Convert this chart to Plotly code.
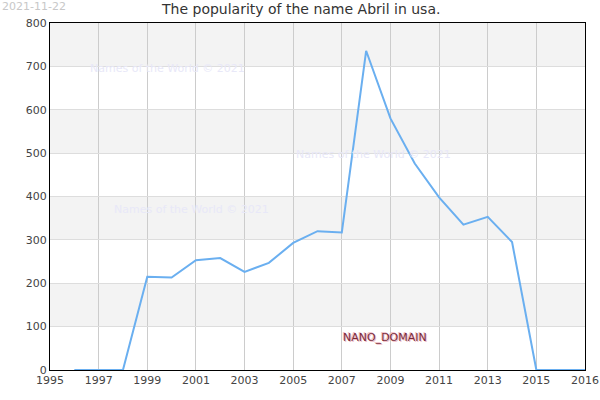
import plotly.graph_objects as go

years = list(range(1996, 2018))
values = [0, 0, 0, 215, 213, 253, 258, 226, 247, 293, 320, 317, 736, 580, 476, 398, 335, 353, 295, 0, 0, 0]

tick_vals = [1995, 1997, 1999, 2001, 2003, 2005, 2007, 2009, 2011, 2013, 2015, 2017]
tick_text = ["1995", "1997", "1999", "2001", "2003", "2005", "2007", "2009", "2011", "2013", "2015", "2016"]

title_text = "The popularity of the name Abril in usa."
date_text = "2021-11-22"
watermark = "Names of the World © 2021"
domain_label = "NANO_DOMAIN"

fig = go.Figure()
fig.add_trace(go.Scatter(x=years, y=values, mode="lines",
                         line=dict(color="#6aaff0", width=2), hoverinfo="skip"))

shapes = []
for lo in [100, 300, 500, 700]:
    shapes.append(dict(type="rect", xref="paper", yref="y", x0=0, x1=1, y0=lo, y1=lo + 100,
                       fillcolor="#f3f3f3", line=dict(width=0), layer="below"))

font = "DejaVu Sans, sans-serif"
annotations = [
    dict(text=title_text, x=(300 - 50) / 535, xref="paper", y=1, yref="paper", yanchor="bottom",
         yshift=4, showarrow=False, font=dict(size=14, color="#333", family=font)),
    dict(text=date_text, x=0, y=1, xref="paper", yref="paper", xanchor="left", yanchor="bottom",
         xshift=-50, yshift=8, showarrow=False, font=dict(size=11, color="#c8c8c8", family=font)),
]

wm = [(1999.85, 694), (2008.3, 496), (2000.83, 371)]
for x, y in wm:
    annotations.append(dict(text=watermark, x=x, y=y, xref="x", yref="y", showarrow=False,
                            font=dict(size=11, color="#e8e8f8", family=font)))
annotations.append(dict(text=domain_label, x=2008.76, y=74, xref="x", yref="y", showarrow=False,
                        font=dict(size=11, color="#7a2a3a", family=font,
                                  shadow="1px 1px 0 #f0c0c8, -1px -1px 0 #f0c0c8")))

fig.update_layout(
    width=600, height=400,
    margin=dict(l=50, r=15, t=23, b=30, autoexpand=False),
    paper_bgcolor="white", plot_bgcolor="white",
    showlegend=False,
    shapes=shapes,
    annotations=annotations,
    font=dict(family=font, size=11, color="#444"),
    xaxis=dict(range=[1995, 2017], tickvals=tick_vals, ticktext=tick_text, automargin=False,
               showgrid=True, gridcolor="#cccccc",
               showline=True, linecolor="black", linewidth=1, mirror=True, zeroline=False,
               ticks="", tickfont=dict(size=11, color="#444")),
    yaxis=dict(range=[0, 800], dtick=100, showgrid=True, gridcolor="#dddddd", automargin=False,
               showline=True, linecolor="black", linewidth=1, mirror=True, zeroline=False,
               ticks="", tickfont=dict(size=11, color="#444")),
)

fig.write_html("out.html")
